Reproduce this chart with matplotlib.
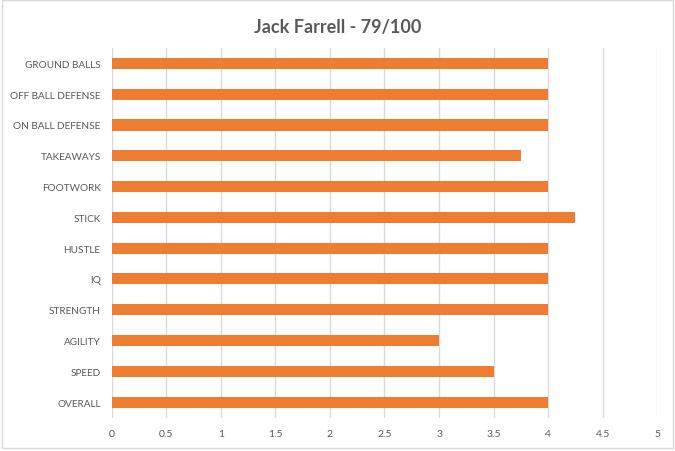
import matplotlib
matplotlib.use("Agg")
import matplotlib.pyplot as plt
from matplotlib.patches import Rectangle

title = "Jack Farrell - 79/100"
categories = ["GROUND BALLS", "OFF BALL DEFENSE", "ON BALL DEFENSE", "TAKEAWAYS",
              "FOOTWORK", "STICK", "HUSTLE", "IQ", "STRENGTH", "AGILITY", "SPEED", "OVERALL"]
values = [4, 4, 4, 3.75, 4, 4.25, 4, 4, 4, 3, 3.5, 4]
xticks = [0, 0.5, 1, 1.5, 2, 2.5, 3, 3.5, 4, 4.5, 5]
xticklabels = ["0", "0.5", "1", "1.5", "2", "2.5", "3", "3.5", "4", "4.5", "5"]

plt.rcParams['font.family'] = ['Lato', 'DejaVu Sans']
text_color = "#595959"

fig = plt.figure(figsize=(6.75, 4.52), dpi=100)
fig.patches.append(Rectangle((2/675, 1 - 449/452), 671/675, 448/452, transform=fig.transFigure,
                             fill=False, edgecolor="#D9D9D9", linewidth=1))
ax = fig.add_axes([111.7/675, 1 - 418.5/452, (657.3 - 111.7)/675, (418.5 - 49)/452])

n = len(categories)
ypos = list(range(n))[::-1]
ax.barh(ypos, values, height=0.36, color="#ED7D31", zorder=3)
ax.set_ylim(-0.5, n - 0.5)
ax.set_xlim(0, 5)
ax.set_xticks(xticks)
ax.set_xticklabels(xticklabels)
ax.set_yticks(ypos)
ax.set_yticklabels(categories)
ax.tick_params(axis='both', length=0, colors=text_color, labelsize=7.2)
ax.tick_params(axis='x', pad=8, labelsize=7.5)
ax.tick_params(axis='y', pad=8)
ax.grid(axis='x', color="#D9D9D9", linewidth=1, zorder=0)
for s in ax.spines.values():
    s.set_visible(False)

fig.text(338/675, 1 - 27/452, title, ha='center', va='center', fontsize=13,
         fontweight='bold', color=text_color)

fig.savefig("out.png", dpi=100)
